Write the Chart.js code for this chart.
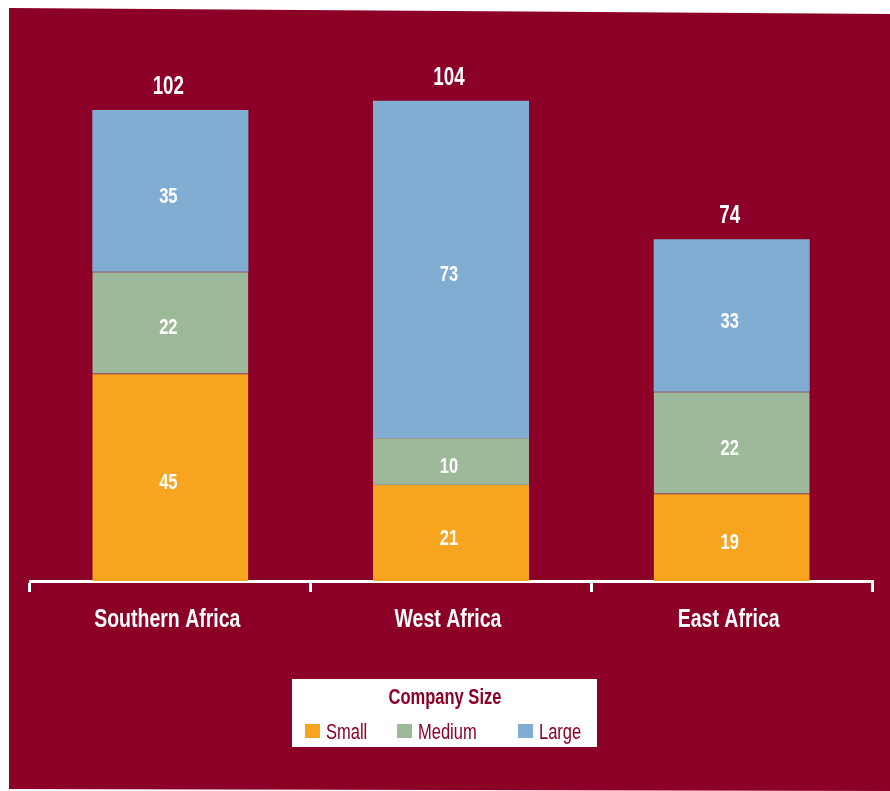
<!DOCTYPE html>
<html>
<head>
<meta charset="utf-8">
<script src="https://cdn.jsdelivr.net/npm/chart.js@4/dist/chart.umd.min.js"></script>
<style>
html,body{margin:0;padding:0;background:#fff;}
#wrap{width:890px;height:791px;position:relative;}
</style>
</head>
<body>
<div id="wrap"><canvas id="c" width="890" height="791"></canvas></div>
<script>
const categories = ['Southern Africa', 'West Africa', 'East Africa'];
const small = [45, 21, 19];
const medium = [22, 10, 22];
const large = [35, 73, 33];
const totals = [102, 104, 74];
const legendTitle = 'Company Size';
const seriesNames = ['Small', 'Medium', 'Large'];

const FONT = '"Liberation Sans", Arial, sans-serif';
const SX = 0.75;
const BG = '#8C0027';
const COLORS = ['#F7A51F', '#9EB89A', '#82ADD2'];

function condText(ctx, text, x, y, align) {
  ctx.save();
  ctx.translate(x, y);
  ctx.scale(SX, 1);
  ctx.textAlign = align || 'center';
  ctx.textBaseline = 'alphabetic';
  ctx.fillText(text, 0, 0);
  ctx.restore();
}

const bgPlugin = {
  id: 'bgPoly',
  beforeDraw(chart) {
    const ctx = chart.ctx;
    ctx.save();
    ctx.fillStyle = '#ffffff';
    ctx.fillRect(0, 0, chart.width, chart.height);
    ctx.fillStyle = BG;
    ctx.beginPath();
    ctx.moveTo(9, 8);
    ctx.lineTo(890, 14);
    ctx.lineTo(890, 791);
    ctx.lineTo(9, 789);
    ctx.closePath();
    ctx.fill();
    ctx.restore();
  }
};

const labelPlugin = {
  id: 'labels',
  afterDatasetsDraw(chart) {
    const ctx = chart.ctx;
    ctx.save();
    ctx.fillStyle = '#ffffff';
    ctx.font = 'bold 22px ' + FONT;
    chart.data.datasets.forEach((ds, di) => {
      const meta = chart.getDatasetMeta(di);
      meta.data.forEach((bar, i) => {
        const cy = (bar.y + bar.base) / 2;
        condText(ctx, String(ds.data[i]), bar.x - 2, cy + 12);
      });
    });
    ctx.font = 'bold 25px ' + FONT;
    const topMeta = chart.getDatasetMeta(chart.data.datasets.length - 1);
    const yScale = chart.scales.y;
    topMeta.data.forEach((bar, i) => {
      condText(ctx, String(totals[i]), bar.x - 2, yScale.getPixelForValue(totals[i]) - 16);
    });
    // category labels
    const xScale = chart.scales.x;
    ctx.font = 'bold 26px ' + FONT;
    categories.forEach((c, i) => {
      condText(ctx, c, xScale.getPixelForValue(i) - 3, 627);
    });
    ctx.restore();
  }
};

const legendPlugin = {
  id: 'customLegend',
  afterDraw(chart) {
    const ctx = chart.ctx;
    ctx.save();
    ctx.fillStyle = '#ffffff';
    ctx.fillRect(292, 679, 305, 68);
    ctx.fillStyle = BG;
    ctx.font = 'bold 22px ' + FONT;
    condText(ctx, legendTitle, 445, 704);
    const xs = [305, 397, 518];
    ctx.font = '22px ' + FONT;
    seriesNames.forEach((n, i) => {
      ctx.fillStyle = COLORS[i];
      ctx.fillRect(xs[i], 724, 15, 14);
      ctx.fillStyle = BG;
      condText(ctx, n, xs[i] + 21, 739, 'left');
    });
    ctx.restore();
  }
};

new Chart(document.getElementById('c'), {
  type: 'bar',
  data: {
    labels: categories,
    datasets: [
      { label: seriesNames[0], data: small, backgroundColor: COLORS[0], borderColor: '#999999', borderWidth: {top: 1, left: 0, right: 0, bottom: 0}, borderSkipped: false },
      { label: seriesNames[1], data: medium, backgroundColor: COLORS[1], borderColor: '#999999', borderWidth: {top: 1, left: 0, right: 0, bottom: 0}, borderSkipped: false },
      { label: seriesNames[2], data: large, backgroundColor: COLORS[2], borderColor: '#999999', borderWidth: 0 }
    ]
  },
  options: {
    responsive: false,
    animation: false,
    devicePixelRatio: 1,
    layout: { padding: { left: 30, right: 18, top: 27, bottom: 0 } },
    datasets: { bar: { categoryPercentage: 1.0, barPercentage: 0.556 } },
    plugins: { legend: { display: false }, tooltip: { enabled: false } },
    scales: {
      x: {
        stacked: true,
        offset: true,
        afterFit(scale) { scale.height = 210; },
        border: { display: true, color: '#ffffff', width: 3 },
        grid: { display: true, offset: true, drawOnChartArea: false, drawTicks: true, tickLength: 11, color: '#ffffff', lineWidth: 3 },
        ticks: { display: false }
      },
      y: {
        stacked: true,
        display: false,
        min: 0,
        max: 120
      }
    }
  },
  plugins: [bgPlugin, labelPlugin, legendPlugin]
});
</script>
</body>
</html>
